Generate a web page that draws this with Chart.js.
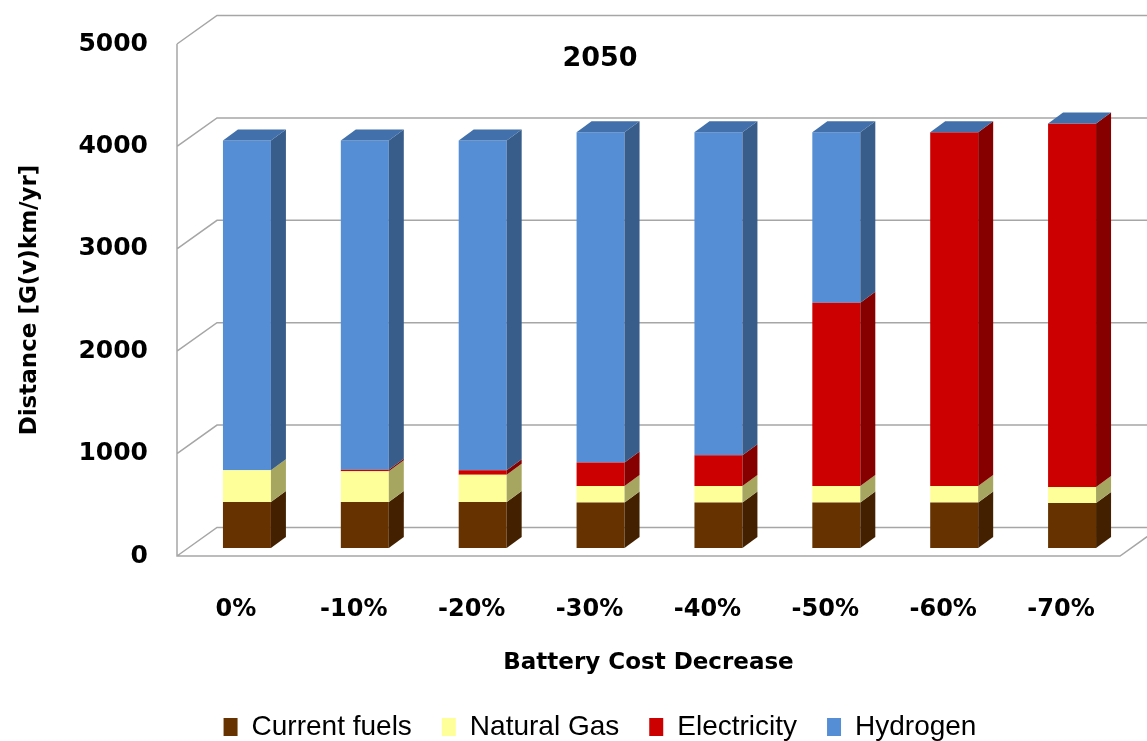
<!DOCTYPE html>
<html>
<head>
<meta charset="UTF-8">
<title>2050 - Battery Cost Decrease</title>
<script src="https://cdn.jsdelivr.net/npm/chart.js"></script>
<style>
    html, body { margin: 0; padding: 0; background: #fff; }
    canvas { display: block; }
</style>
</head>
<body>
<canvas id="chart" width="1147" height="741"></canvas>
<script>
    // distance per fuel, G(v)km/yr
    const categories   = ['0%', '-10%', '-20%', '-30%', '-40%', '-50%', '-60%', '-70%'];
    const currentFuels = [450, 450, 450, 445, 445, 445, 445, 440];
    const naturalGas   = [310, 300, 265, 160, 160, 160, 160, 155];
    const electricity  = [0, 15, 45, 230, 300, 1790, 3455, 3550];
    const hydrogen     = [3220, 3215, 3220, 3225, 3155, 1665, 0, 0];
    const yTicks       = [0, 1000, 2000, 3000, 4000, 5000];

    const PLOT = { left: 177, top: 42, bottom: 556, right: 1120 };
    const PAD_BOTTOM = -10;

    // fake 3d: wall depth, bar offset from the front plane, bar depth
    const depth = {
        wall:  { dx: 40, dy: -28.5 },
        shift: { dx: 11, dy: -8 },
        bar:   { dx: 15, dy: -11 }
    };

    const boldFont = size => ({ family: 'DejaVu Sans', weight: 'bold', size: size });

    const box3d = {
        id: 'box3d',
        afterLayout(chart) {
            // centre the legend row under the plot
            chart.legend.left = 80;
        },
        beforeDatasetsDraw(chart) {
            const { ctx, chartArea: a, scales: { y } } = chart;
            const w = depth.wall;
            ctx.save();
            ctx.strokeStyle = '#a6a6a6';
            ctx.lineWidth = 1.5;
            ctx.beginPath();
            yTicks.forEach(v => {
                const py = y.getPixelForValue(v);
                ctx.moveTo(a.left, py);
                ctx.lineTo(a.left + w.dx, py + w.dy);
                ctx.lineTo(chart.width + w.dx, py + w.dy);
            });
            ctx.moveTo(a.left, y.getPixelForValue(yTicks[yTicks.length - 1]));
            ctx.lineTo(a.left, a.bottom);
            ctx.lineTo(a.right, a.bottom);
            ctx.lineTo(a.right + w.dx, a.bottom + w.dy);
            ctx.stroke();
            ctx.restore();

            ctx.save();
            ctx.translate(depth.shift.dx, depth.shift.dy);
        },
        afterDatasetsDraw(chart) {
            const { ctx } = chart;
            const d = depth.bar;
            const sets = chart.data.datasets;

            const quad = (pts, color) => {
                ctx.fillStyle = color;
                ctx.beginPath();
                ctx.moveTo(pts[0][0], pts[0][1]);
                for (let k = 1; k < pts.length; k++) ctx.lineTo(pts[k][0], pts[k][1]);
                ctx.closePath();
                ctx.fill();
            };

            sets.forEach((ds, i) => {
                chart.getDatasetMeta(i).data.forEach(el => {
                    const { x, y, base, width } = el.getProps(['x', 'y', 'base', 'width'], true);
                    const r = x + width / 2;
                    const top = Math.min(y, base), bot = Math.max(y, base);
                    if (bot - top <= 0) return;
                    quad([[r, bot], [r + d.dx, bot + d.dy], [r + d.dx, top + d.dy], [r, top]], ds.sideColor);
                });
            });

            // lid on each stack, coloured by the top series
            const lastIdx = sets.length - 1;
            chart.getDatasetMeta(lastIdx).data.forEach(el => {
                const { x, y, base, width } = el.getProps(['x', 'y', 'base', 'width'], true);
                const l = x - width / 2, r = x + width / 2;
                const top = Math.min(y, base);
                quad([[l, top], [l + d.dx, top + d.dy], [r + d.dx, top + d.dy], [r, top]], sets[lastIdx].topColor);
            });

            ctx.restore();
        },
        afterDraw(chart) {
            const { ctx } = chart;
            ctx.save();
            ctx.font = 'bold 27px "DejaVu Sans"';
            ctx.fillStyle = '#000';
            ctx.textAlign = 'center';
            ctx.textBaseline = 'middle';
            ctx.fillText('2050', 600, 59);
            ctx.restore();
        }
    };

    new Chart(document.getElementById('chart'), {
        type: 'bar',
        data: {
            labels: categories,
            datasets: [
                { label: 'Current fuels', data: currentFuels, backgroundColor: '#663300', sideColor: '#432100' },
                { label: 'Natural Gas',   data: naturalGas,   backgroundColor: '#ffff99', sideColor: '#a6a660' },
                { label: 'Electricity',   data: electricity,  backgroundColor: '#cc0000', sideColor: '#870000' },
                { label: 'Hydrogen',      data: hydrogen,     backgroundColor: '#558ed5', sideColor: '#385d8a', topColor: '#4170aa' }
            ]
        },
        options: {
            responsive: false,
            animation: false,
            events: [],
            devicePixelRatio: 1,
            datasets: {
                bar: { barPercentage: 0.407, categoryPercentage: 1, borderWidth: 0, clip: false }
            },
            layout: { padding: { left: 0, top: PLOT.top, right: 1147 - PLOT.right, bottom: PAD_BOTTOM } },
            scales: {
                x: {
                    stacked: true,
                    afterFit: s => { s.height = s.chart.height - PLOT.bottom - s.chart.legend.height - PAD_BOTTOM; },
                    grid: { display: false, drawTicks: false },
                    border: { display: false },
                    ticks: { color: '#000', font: boldFont(24), padding: 39, maxRotation: 0, autoSkip: false },
                    title: { display: true, text: 'Battery Cost Decrease', color: '#000', font: boldFont(23), padding: { top: 0, bottom: 6 } }
                },
                y: {
                    stacked: true,
                    min: yTicks[0],
                    max: yTicks[yTicks.length - 1],
                    afterBuildTicks: s => { s.ticks = yTicks.map(v => ({ value: v })); },
                    afterFit: s => { s.width = PLOT.left; },
                    grid: { display: false, drawTicks: false },
                    border: { display: false },
                    ticks: { color: '#000', font: boldFont(25), padding: 29, callback: v => String(v) },
                    title: { display: true, text: 'Distance [G(v)km/yr]', color: '#000', font: boldFont(23), padding: { top: 16, bottom: 0 } }
                }
            },
            plugins: {
                legend: {
                    position: 'bottom',
                    labels: {
                        color: '#000',
                        font: { family: 'Liberation Sans', size: 28 },
                        boxWidth: 14,
                        boxHeight: 18,
                        padding: 30
                    }
                },
                tooltip: { enabled: false }
            }
        },
        plugins: [box3d]
    });
</script>
</body>
</html>
